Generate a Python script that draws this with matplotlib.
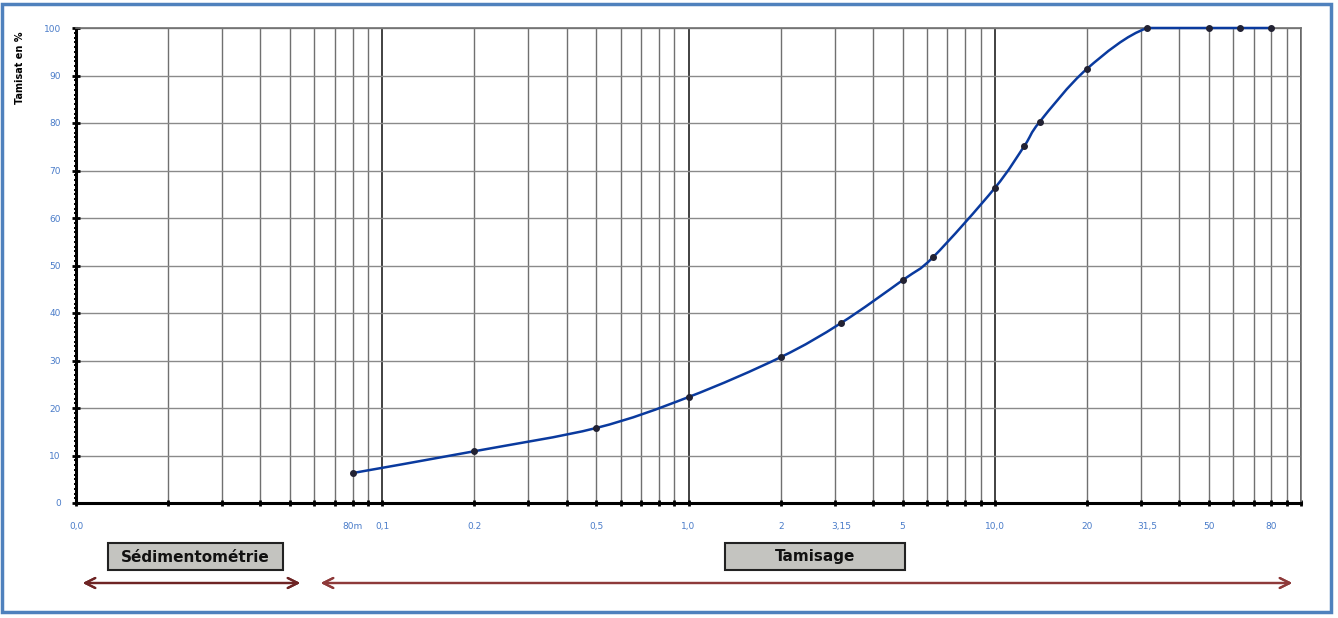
import matplotlib
matplotlib.use("Agg")
import matplotlib.pyplot as plt
import matplotlib.ticker as mticker
from matplotlib.patches import Rectangle, PathPatch
from matplotlib.path import Path
import numpy as np

# Courbe granulométrique (tamisat cumulé)
tamis_mm = [0.08, 0.2, 0.5, 1.0, 2.0, 3.15, 5.0, 6.3, 10.0, 12.5, 14.0, 20.0, 31.5, 50.0, 63.0, 80.0]
tamisat = [6.3, 10.9, 15.8, 22.3, 30.7, 37.9, 46.9, 51.8, 66.3, 75.2, 80.2, 91.4, 100, 100, 100, 100]

# Repères de l'axe des x
reperes_x = [0.01, 0.08, 0.1, 0.2, 0.5, 1.0, 2.0, 3.15, 5.0, 10.0, 20.0, 31.5, 50.0, 80.0]
libelles_x = ["0,0", "80m", "0,1", "0.2", "0,5", "1,0", "2", "3,15", "5", "10,0", "20", "31,5", "50", "80"]

W, H = 1338, 618
BLEU_TXT = "#4A7CC9"

fig = plt.figure(figsize=(W / 100, H / 100), dpi=100)
fig.patch.set_facecolor("white")


def fx(px):
    return px / W


def fy(py):
    return 1 - py / H


def chemin_lisse(xs, ys):
    # courbe lissée type Excel : Béziers cubiques (Catmull-Rom) dans l'espace log(x),
    # points de contrôle bornés pour éviter tout dépassement
    lx = np.log10(xs)
    y = np.asarray(ys, dtype=float)
    n = len(lx)
    verts = [(xs[0], y[0])]
    codes = [Path.MOVETO]
    for i in range(n - 1):
        i0, i3 = max(i - 1, 0), min(i + 2, n - 1)
        lo, hi = min(y[i], y[i + 1]), max(y[i], y[i + 1])
        c1y = np.clip(y[i] + (y[i + 1] - y[i0]) / 6, lo, hi)
        c2y = np.clip(y[i + 1] - (y[i3] - y[i]) / 6, lo, hi)
        c1x = lx[i] + (lx[i + 1] - lx[i0]) / 6
        c2x = lx[i + 1] - (lx[i3] - lx[i]) / 6
        verts += [(10 ** c1x, c1y), (10 ** c2x, c2y), (xs[i + 1], y[i + 1])]
        codes += [Path.CURVE4] * 3
    return Path(verts, codes)


ax = fig.add_axes([fx(76), fy(503), fx(1301) - fx(76), fy(28) - fy(503)])
ax.set_xscale("log")
ax.set_xlim(0.01, 100)
ax.set_ylim(0, 100)

# grille
ax.xaxis.set_major_locator(mticker.LogLocator(base=10, numticks=10))
ax.xaxis.set_minor_locator(mticker.LogLocator(base=10, subs=np.arange(2, 10), numticks=20))
ax.xaxis.set_major_formatter(mticker.NullFormatter())
ax.xaxis.set_minor_formatter(mticker.NullFormatter())
ax.grid(True, which="major", axis="x", color="#333333", linewidth=1.3)
ax.grid(True, which="minor", axis="x", color="#707070", linewidth=1.0)
ax.set_yticks(np.arange(0, 101, 10))
ax.yaxis.set_minor_locator(mticker.MultipleLocator(1))
ax.grid(True, which="major", axis="y", color="#8a8a8a", linewidth=1.0)
ax.set_axisbelow(True)

ax.tick_params(axis="x", which="both", direction="inout", length=5, width=2, color="black")
ax.tick_params(axis="y", which="major", direction="inout", length=6, width=2, color="black",
               labelsize=6.5, labelcolor=BLEU_TXT, pad=8)
ax.tick_params(axis="y", which="minor", direction="inout", length=3, width=1.4, color="black")

for s in ["left", "bottom"]:
    ax.spines[s].set_linewidth(2.2)
    ax.spines[s].set_color("black")
for s in ["top", "right"]:
    ax.spines[s].set_linewidth(1.2)
    ax.spines[s].set_color("#707070")

# libellés x en bleu
for xv, lab in zip(reperes_x, libelles_x):
    ax.text(xv, -5, lab, ha="center", va="center", fontsize=6.5, color=BLEU_TXT, clip_on=False)

# courbe
ax.add_patch(PathPatch(chemin_lisse(tamis_mm, tamisat), facecolor="none",
                       edgecolor="#0A3A9E", linewidth=1.8, clip_on=False, zorder=3))
ax.plot(tamis_mm, tamisat, linestyle="none", marker="o", markersize=4,
        markerfacecolor="#222233", markeredgecolor="#222233", clip_on=False, zorder=4)

fig.text(fx(20), fy(68), "Tamisat en %", rotation=90, ha="center", va="center",
         fontsize=7, fontweight="bold", color="black")

# cartouches
for (x0, x1, txt) in [(108, 283, "Sédimentométrie"), (725, 905, "Tamisage")]:
    fig.patches.append(Rectangle((fx(x0), fy(570)), fx(x1) - fx(x0), fy(543) - fy(570),
                                 transform=fig.transFigure, facecolor="#C4C4C0",
                                 edgecolor="#222222", linewidth=1.5))
    fig.text(fx((x0 + x1) / 2), fy(557), txt, ha="center", va="center",
             fontsize=11, fontweight="bold", color="#111111")

# flèches
fig.add_artist(plt.annotate("", xy=(fx(80), fy(583)), xytext=(fx(303), fy(583)),
                            xycoords="figure fraction", textcoords="figure fraction",
                            arrowprops=dict(arrowstyle="<->", color="#6E2424", lw=1.6,
                                            mutation_scale=18)))
fig.add_artist(plt.annotate("", xy=(fx(318), fy(583)), xytext=(fx(1295), fy(583)),
                            xycoords="figure fraction", textcoords="figure fraction",
                            arrowprops=dict(arrowstyle="<->", color="#8E3A3A", lw=1.6,
                                            mutation_scale=18)))

# cadre
fig.patches.append(Rectangle((fx(2), fy(612)), fx(1331) - fx(2), fy(4) - fy(612),
                             transform=fig.transFigure, fill=False,
                             edgecolor="#4F81BD", linewidth=2.5))

fig.savefig("out.png", dpi=100)
